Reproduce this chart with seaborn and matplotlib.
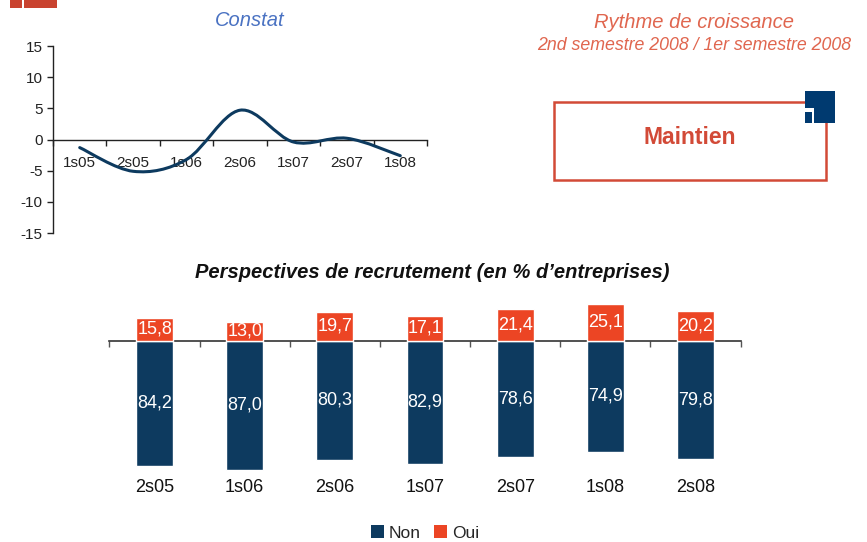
import numpy as np
import pandas as pd
import seaborn as sns
from matplotlib import pyplot as plt
from matplotlib.path import Path
import matplotlib.patches as mpatches

# --- data ---
constat_periods = ["1s05", "2s05", "1s06", "2s06", "1s07", "2s07", "1s08"]
constat_values = [-1.3, -5.1, -3.2, 4.7, -0.4, 0.2, -2.6]

recrut_periods = ["2s05", "1s06", "2s06", "1s07", "2s07", "1s08", "2s08"]
recrut_non = [84.2, 87.0, 80.3, 82.9, 78.6, 74.9, 79.8]
recrut_oui = [15.8, 13.0, 19.7, 17.1, 21.4, 25.1, 20.2]

verdict = "Maintien"

NAVY = "#0d3a5f"
ORANGE = "#ec4524"
SALMON = "#e0664f"
RED = "#d24a37"
BLUE_TITLE = "#4a72c2"

sns.set_theme(style="white")
plt.rcParams["font.family"] = ["Liberation Sans", "DejaVu Sans"]
plt.rcParams["axes.unicode_minus"] = False

W, H = 867, 542
fig = plt.figure(figsize=(W / 100, H / 100), dpi=100)


def fx(px):
    return px / W


def fy(py):
    return 1 - py / H


def smooth_path(xs, ys):
    # Excel-like smoothed line: Catmull-Rom through the data points
    pts = np.column_stack([xs, ys]).astype(float)
    ext = np.vstack([pts[0], pts, pts[-1]])
    verts = [pts[0]]
    codes = [Path.MOVETO]
    for i in range(len(pts) - 1):
        p0, p1, p2, p3 = ext[i], ext[i + 1], ext[i + 2], ext[i + 3]
        verts += [p1 + (p2 - p0) / 6, p2 - (p3 - p1) / 6, p2]
        codes += [Path.CURVE4] * 3
    return Path(verts, codes)


# --- top left: Constat ---
ax1 = fig.add_axes([fx(53), fy(233), fx(427 - 53), (233 - 46) / H])
ax1.add_patch(mpatches.PathPatch(smooth_path(range(len(constat_values)), constat_values),
                                 facecolor="none", edgecolor=NAVY, linewidth=2.2,
                                 capstyle="round", zorder=5))
ax1.set_xlim(-0.5, len(constat_periods) - 0.5)
ax1.set_ylim(-15, 15)
ax1.set_yticks(range(-15, 16, 5))
ax1.set_xticks(np.arange(-0.5, len(constat_periods), 1.0))
ax1.set_xticklabels([])
for s in ["top", "right"]:
    ax1.spines[s].set_visible(False)
ax1.spines["bottom"].set_position(("data", 0))
for s in ["left", "bottom"]:
    ax1.spines[s].set_color("#222222")
    ax1.spines[s].set_linewidth(1.0)
ax1.tick_params(axis="both", direction="out", length=4, width=1, color="#222222",
                labelsize=11, labelcolor="#222222", bottom=True, left=True)
for i, p in enumerate(constat_periods):
    ax1.text(i, -3.8, p, ha="center", va="center", fontsize=11, color="#222222")
ax1.set_xlabel("")
ax1.set_ylabel("")
fig.text(fx(250), fy(20), "Constat", ha="center", va="center", fontsize=14.5,
         style="italic", color=BLUE_TITLE)

# decoration top-left
fig.patches.append(mpatches.Rectangle((fx(10), fy(8)), fx(12), 8 / H, transform=fig.transFigure,
                                      facecolor="#c9432f", edgecolor="none"))
fig.patches.append(mpatches.Rectangle((fx(24), fy(8)), fx(33), 8 / H, transform=fig.transFigure,
                                      facecolor="#c9432f", edgecolor="none"))

# --- top right: Rythme de croissance ---
fig.text(fx(694), fy(23), "Rythme de croissance", ha="center", va="center",
         fontsize=14.5, style="italic", color=SALMON)
fig.text(fx(694), fy(45), "2nd semestre 2008 / 1er semestre 2008", ha="center", va="center",
         fontsize=12.8, style="italic", color=SALMON)
fig.patches.append(mpatches.Rectangle((fx(554), fy(180)), fx(272), 78 / H, transform=fig.transFigure,
                                      facecolor="white", edgecolor=RED, linewidth=1.8))
fig.patches.append(mpatches.Rectangle((fx(805), fy(123)), fx(30), 32 / H, transform=fig.transFigure,
                                      facecolor="#003a70", edgecolor="none"))
fig.patches.append(mpatches.Rectangle((fx(805), fy(123)), fx(8.5), 15 / H, transform=fig.transFigure,
                                      facecolor="white", edgecolor="none"))
fig.patches.append(mpatches.Rectangle((fx(805), fy(123)), fx(6.5), 11.5 / H, transform=fig.transFigure,
                                      facecolor="#003a70", edgecolor="none"))
fig.text(fx(690), fy(137), verdict, ha="center", va="center", fontsize=16.5,
         fontweight="bold", color=RED)

# --- bottom: Perspectives de recrutement ---
df = pd.DataFrame({"periode": recrut_periods, "Non": recrut_non, "Oui": recrut_oui})
ax2 = fig.add_axes([fx(109.5), fy(496.4), fx(631), (496.4 - 296.6) / H])
sns.barplot(data=df, x="periode", y=-df["Non"], color=NAVY, width=0.41,
            saturation=1, ax=ax2, zorder=3, label="Non")
sns.barplot(data=df, x="periode", y="Oui", color=ORANGE, width=0.41,
            saturation=1, ax=ax2, zorder=3, label="Oui")
ax2.set_xlim(-0.5, len(recrut_periods) - 0.5)
ax2.set_ylim(-105, 30)
ax2.set_xticks(np.arange(-0.5, len(recrut_periods), 1.0))
ax2.set_xticklabels([])
ax2.set_yticks([])
for s in ["top", "right", "left"]:
    ax2.spines[s].set_visible(False)
ax2.spines["bottom"].set_position(("data", 0))
ax2.spines["bottom"].set_color("#333333")
ax2.spines["bottom"].set_linewidth(1.2)
ax2.tick_params(axis="x", direction="out", length=4, width=1, color="#555555", bottom=True)
ax2.set_xlabel("")
ax2.set_ylabel("")
if ax2.get_legend() is not None:
    ax2.get_legend().remove()

fmt = lambda v: f"{v:.1f}".replace(".", ",")
for i, (n, o) in enumerate(zip(recrut_non, recrut_oui)):
    ax2.text(i, o / 2, fmt(o), ha="center", va="center", fontsize=13, color="white", zorder=5)
    ax2.text(i, -n / 2, fmt(n), ha="center", va="center", fontsize=13, color="white", zorder=5)
    ax2.text(i, -99.3, recrut_periods[i], ha="center", va="center", fontsize=13,
             color="#111111", clip_on=False)

fig.text(fx(432), fy(273), "Perspectives de recrutement (en % d\u2019entreprises)",
         ha="center", va="center", fontsize=14.5, fontweight="bold", style="italic",
         color="#111111")

handles = [mpatches.Patch(facecolor=NAVY, edgecolor="none", label="Non"),
           mpatches.Patch(facecolor=ORANGE, edgecolor="none", label="Oui")]
fig.legend(handles=handles, loc="center", bbox_to_anchor=(fx(425), fy(533)), ncol=2,
           frameon=False, fontsize=12.5, handlelength=0.75, handleheight=0.75,
           handletextpad=0.3, columnspacing=0.75, borderpad=0)

fig.savefig("out.png", dpi=100)
